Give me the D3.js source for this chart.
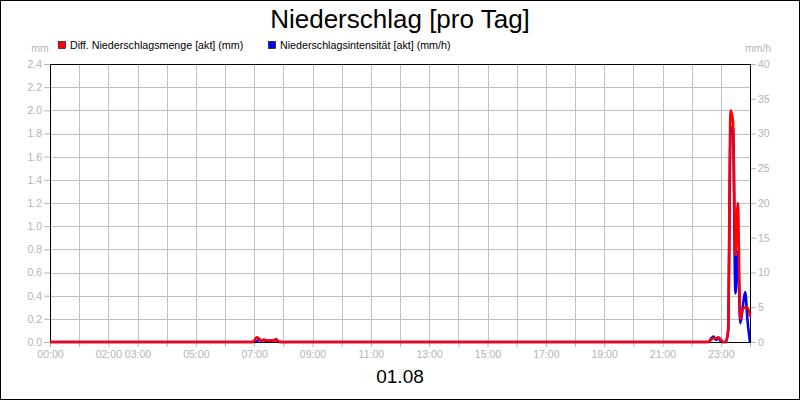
<!DOCTYPE html>
<meta charset="utf-8">
<head>
<script src="https://d3js.org/d3.v7.min.js"></script>
<style>
  body { margin: 0; background: #fff; }
  svg text { font-family: "Liberation Sans", Arial, sans-serif; }
</style>
</head>
<body>
<svg id="chart" width="800" height="400"></svg>
<script>
// sample times (5 min steps where it rains, flat zero elsewhere)
var times = ["00:00","06:55","07:00","07:05","07:10","07:15","07:20","07:25","07:30","07:35",
  "07:40","07:45","07:50","07:55","22:35","22:40","22:45","22:50","22:55","23:00","23:05",
  "23:10","23:15","23:20","23:25","23:30","23:35","23:40","23:45","23:50","23:55","24:00"];
// Diff. Niederschlagsmenge [akt] (mm)
var mengeMm = [0,0,0.01,0.04,0.03,0.01,0.02,0.015,0.01,0.015,
  0.01,0.025,0.005,0,0,0.02,0.035,0.03,0.04,0.02,0,
  0,0.1,2.0,1.9,0.75,1.2,0.2,0.28,0.3,0.3,0.22];
// Niederschlagsintensität [akt] (mm/h)
var intensitaet = [0,0,0,0.1,0.3,0.2,0.3,0.1,0.2,0.1,
  0.2,0.3,0,0,0,0.5,0.8,0.3,0.6,0.1,0,
  0,1.5,30,31,7,13,2.7,5,7.2,3,0];

var xTickLabels = ["00:00","02:00","03:00","05:00","07:00","09:00","11:00","13:00","15:00","17:00","19:00","21:00","23:00"];
var leftTicks = [0,0.2,0.4,0.6,0.8,1.0,1.2,1.4,1.6,1.8,2.0,2.2,2.4];
var rightTicks = [0,5,10,15,20,25,30,35,40];

var grey = "#b4b4b4";
var svg = d3.select("#chart");

function toHours(s) {
  var p = s.split(":");
  return +p[0] + (+p[1]) / 60;
}

var pLeft = 50, pRight = 750, pTop = 64, pBottom = 342;

var x = d3.scaleLinear().domain([0, 24]).range([pLeft, pRight]);
var yL = d3.scaleLinear().domain([0, 2.4]).range([pBottom, pTop]);
var yR = d3.scaleLinear().domain([0, 40]).range([pBottom, pTop]);

// outer frame
svg.append("rect").attr("x", 0.5).attr("y", 0.5).attr("width", 799).attr("height", 399)
  .attr("fill", "#fff").attr("stroke", "#000");

// title
svg.append("text").attr("x", 400).attr("y", 28).attr("text-anchor", "middle")
  .attr("font-size", 26).text("Niederschlag [pro Tag]");

// legend
var legend = [
  {label: "Diff. Niederschlagsmenge [akt] (mm)", color: "#ff0000", x: 58},
  {label: "Niederschlagsintensität [akt] (mm/h)", color: "#0000ff", x: 268}
];
legend.forEach(function(d) {
  svg.append("rect").attr("x", d.x + 0.5).attr("y", 41.5).attr("width", 7).attr("height", 7)
    .attr("fill", d.color).attr("stroke", "#000").attr("stroke-width", 0.6);
  svg.append("text").attr("x", d.x + 12).attr("y", 49).attr("font-size", 10.7).text(d.label);
});

// units
svg.append("text").attr("x", 40).attr("y", 52).attr("text-anchor", "middle")
  .attr("font-size", 10.5).attr("fill", grey).text("mm");
svg.append("text").attr("x", 758).attr("y", 52).attr("text-anchor", "middle")
  .attr("font-size", 10.5).attr("fill", grey).text("mm/h");

// grid
var grid = svg.append("g").attr("stroke", "#c0c0c0").attr("stroke-width", 1);
d3.range(1, 24).forEach(function(h) {
  var gx = Math.round(x(h)) + 0.5;
  grid.append("line").attr("x1", gx).attr("x2", gx).attr("y1", pTop).attr("y2", pBottom);
});
leftTicks.slice(1, -1).forEach(function(v) {
  var gy = Math.round(yL(v)) + 0.5;
  grid.append("line").attr("x1", pLeft).attr("x2", pRight).attr("y1", gy).attr("y2", gy);
});

// axes
var xAxis = svg.append("g").attr("transform", "translate(0," + pBottom + ")")
  .call(d3.axisBottom(x).tickValues(d3.range(0, 25)).tickSize(5).tickFormat(""));
xAxis.selectAll(".tick").filter(function(d) {
  return xTickLabels.indexOf(d3.format("02d")(d) + ":00") >= 0;
}).select("text").text(function(d) { return d3.format("02d")(d) + ":00"; });

var lAxis = svg.append("g").attr("transform", "translate(" + pLeft + ",0)")
  .call(d3.axisLeft(yL).tickValues(leftTicks).tickSize(6).tickFormat(d3.format(".1f")));
var rAxis = svg.append("g").attr("transform", "translate(" + pRight + ",0)")
  .call(d3.axisRight(yR).tickValues(rightTicks).tickSize(6).tickFormat(d3.format("d")));

[xAxis, lAxis, rAxis].forEach(function(a) {
  a.select(".domain").remove();
  a.attr("font-family", null).attr("font-size", 10.5);
  a.selectAll(".tick line").attr("stroke", grey);
  a.selectAll(".tick text").attr("fill", grey);
});
lAxis.selectAll(".tick text").attr("x", -8);
rAxis.selectAll(".tick text").attr("x", 8);
xAxis.selectAll(".tick text").attr("y", 9);

// date
svg.append("text").attr("x", 400).attr("y", 383).attr("text-anchor", "middle")
  .attr("font-size", 19).text("01.08");

// series
var hours = times.map(toHours);
var lineR = d3.line().x(function(d, i) { return x(hours[i]); })
  .y(function(d) { return yR(d); }).curve(d3.curveMonotoneX);
var lineL = d3.line().x(function(d, i) { return x(hours[i]); })
  .y(function(d) { return yL(d); }).curve(d3.curveMonotoneX);

svg.append("path").datum(intensitaet).attr("d", lineR)
  .attr("fill", "none").attr("stroke", "#0000ff").attr("stroke-width", 2.6)
  .attr("stroke-linejoin", "round");

// plot frame
svg.append("path")
  .attr("d", "M" + (pLeft + 0.5) + "," + (pBottom + 0.5) + "V" + (pTop + 0.5) + "H" + (pRight + 0.5) + "V" + (pBottom + 0.5) + "H" + (pLeft + 0.5))
  .attr("fill", "none").attr("stroke", "#000");

svg.append("path").datum(mengeMm).attr("d", lineL)
  .attr("fill", "none").attr("stroke", "#ff0000").attr("stroke-width", 2.6)
  .attr("stroke-linejoin", "round");
</script>
</body>
